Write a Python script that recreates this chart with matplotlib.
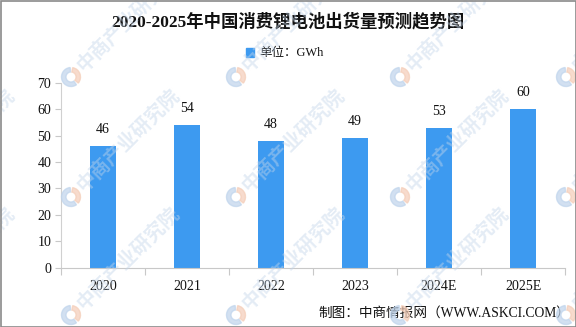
import matplotlib
matplotlib.use('Agg')
import matplotlib.pyplot as plt
from matplotlib.patches import Wedge, Rectangle

plt.rcParams['font.family'] = ['Liberation Serif', 'Noto Sans CJK SC', 'DejaVu Sans']

# shipments, GWh
years = ['2020', '2021', '2022', '2023', '2024E', '2025E']
shipments = [46, 54, 48, 49, 53, 60]

title = '2020-2025年中国消费锂电池出货量预测趋势图'
unit_label = '单位：GWh'
source = '制图：中商情报网（WWW.ASKCI.COM）'
mark = '中商产业研究院'

bar_color = '#3d9af0'
W, H = 576, 327

fig = plt.figure(figsize=(W / 100, H / 100), dpi=100)
ax = fig.add_axes([61 / W, 1 - 267.7 / H, 504 / W, 185 / H])

x = range(len(years))
ax.bar(x, shipments, width=0.31, color=bar_color, zorder=2)
for xi, v in zip(x, shipments):
    ax.annotate(str(v), (xi, v), xytext=(0, 7), textcoords='offset points',
                ha='center', va='bottom', fontsize=10, color='#111111')

ax.set_xlim(-0.5, len(years) - 0.5)
ax.set_ylim(0, 70)
ax.set_yticks(range(0, 71, 10))
ax.set_xticks(x)
ax.set_xticklabels(years)
ax.set_xticks([i - 0.5 for i in range(len(years) + 1)], minor=True)
ax.tick_params(axis='x', which='major', length=0, pad=9, labelsize=10, labelcolor='#111111')
ax.tick_params(axis='x', which='minor', length=5, color='#c8c8c8', width=0.8)
ax.tick_params(axis='y', length=4, color='#c8c8c8', width=0.8, pad=3,
               labelsize=10, labelcolor='#111111')
for s in ['top', 'right']:
    ax.spines[s].set_visible(False)
ax.spines['left'].set_color('#d0d0d0')
ax.spines['bottom'].set_color('#c8c8c8')
ax.spines['left'].set_linewidth(0.8)
ax.spines['bottom'].set_linewidth(0.8)

fig.text(0.5, 1 - 22 / H, title, ha='center', va='center', fontsize=12.5,
         fontweight='bold', color='#111111')

# legend: square + unit text
fig.add_artist(Rectangle((246 / W, 1 - 56.5 / H), 8 / W, 8 / H,
                         transform=fig.transFigure, color=bar_color))
fig.text(259 / W, 1 - 53 / H, unit_label, ha='left', va='center', fontsize=9,
         color='#111111')

fig.text(570 / W, 1 - 313 / H, source, ha='right', va='center', fontsize=9.8,
         color='#111111')

# faint diagonal watermark tiles
for lx in [-94, 71, 236, 400, 566]:
    for ly in [77, 197, 315]:
        cx, cy = lx / 100, (H - ly) / 100
        fig.add_artist(Wedge((cx, cy), 0.095, 95, 305, width=0.045,
                             transform=fig.dpi_scale_trans, color='#bfd4ec',
                             alpha=0.7, zorder=5))
        fig.add_artist(Wedge((cx, cy), 0.095, -40, 80, width=0.045,
                             transform=fig.dpi_scale_trans, color='#f4cdb8',
                             alpha=0.7, zorder=5))
        fig.text((lx + 9) / W, 1 - (ly - 9) / H, mark, rotation=45,
                 rotation_mode='anchor', ha='left', va='center', fontsize=14,
                 fontweight='bold', color='#c3d5ea', alpha=0.45, zorder=5,
                 family=['Noto Sans CJK SC'])

# outer frame
fig.add_artist(Rectangle((0.5 / W, 0.5 / H), (W - 1) / W, (H - 1) / H,
                         transform=fig.transFigure, fill=False,
                         edgecolor='#8a8a8a', linewidth=1.2, zorder=10))

fig.savefig('out.png', dpi=100)
